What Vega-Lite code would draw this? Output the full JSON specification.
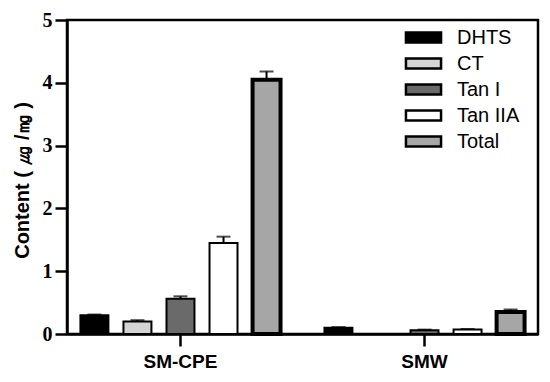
{
  "$schema": "https://vega.github.io/schema/vega-lite/v6.json",
  "width": 471,
  "height": 314,
  "autosize": {"type": "none"},
  "padding": {"left": 67, "top": 20, "right": 12, "bottom": 48},
  "background": "white",
  "config": {
    "view": {"stroke": "black", "strokeWidth": 2.5},
    "axis": {"grid": false, "domainColor": "black", "tickColor": "black", "labelColor": "black", "titleColor": "black"}
  },
  "data": {
    "values": [
      {"group": "SM-CPE", "compound": "DHTS", "value": 0.30, "hi": 0.31},
      {"group": "SM-CPE", "compound": "CT", "value": 0.20, "hi": 0.22},
      {"group": "SM-CPE", "compound": "Tan I", "value": 0.56, "hi": 0.60},
      {"group": "SM-CPE", "compound": "Tan IIA", "value": 1.45, "hi": 1.55},
      {"group": "SM-CPE", "compound": "Total", "value": 4.05, "hi": 4.18},
      {"group": "SMW", "compound": "DHTS", "value": 0.10, "hi": 0.11},
      {"group": "SMW", "compound": "CT", "value": 0.0, "hi": 0.0},
      {"group": "SMW", "compound": "Tan I", "value": 0.06, "hi": 0.07},
      {"group": "SMW", "compound": "Tan IIA", "value": 0.07, "hi": 0.08},
      {"group": "SMW", "compound": "Total", "value": 0.35, "hi": 0.39}
    ]
  },
  "encoding": {
    "x": {
      "field": "group", "type": "nominal", "sort": ["SM-CPE", "SMW"],
      "scale": {"paddingInner": 0.18, "paddingOuter": 0.055},
      "axis": {
        "title": null, "labelAngle": 0, "domainWidth": 2.5, "tickWidth": 2.5, "tickSize": 12,
        "labelFont": "Liberation Sans", "labelFontWeight": "bold", "labelFontSize": 19, "labelPadding": 6
      }
    },
    "xOffset": {
      "field": "compound", "type": "nominal",
      "sort": ["DHTS", "CT", "Tan I", "Tan IIA", "Total"],
      "scale": {"paddingInner": 0.35, "paddingOuter": 0}
    }
  },
  "layer": [
    {
      "mark": {"type": "bar", "stroke": "black"},
      "encoding": {
        "y": {
          "field": "value", "type": "quantitative",
          "scale": {"domain": [0, 5]},
          "axis": {
            "title": "Content ( ㎍ /㎎ )", "values": [0, 1, 2, 3, 4, 5], "format": "d",
            "domainWidth": 2.5, "tickWidth": 2.5, "tickSize": 12, "labelPadding": 3,
            "labelFont": "Liberation Serif", "labelFontWeight": "bold", "labelFontSize": 20,
            "titleFont": "Liberation Sans", "titleFontWeight": "bold", "titleFontSize": 20, "titlePadding": 10,
            "titleY": 160
          }
        },
        "fill": {
          "field": "compound", "type": "nominal",
          "scale": {
            "domain": ["DHTS", "CT", "Tan I", "Tan IIA", "Total"],
            "range": ["#000000", "#d4d4d4", "#6a6a6a", "#ffffff", "#a6a6a6"]
          },
          "legend": {
            "title": null, "orient": "none", "legendX": 342, "legendY": 3,
            "symbolType": "M-1.35,-0.38H1.35V0.38H-1.35Z", "symbolSize": 676,
            "symbolStrokeColor": "black", "symbolStrokeWidth": 2.5,
            "labelFont": "Liberation Sans", "labelFontSize": 20, "labelColor": "black",
            "rowPadding": 1, "labelOffset": 19, "symbolOpacity": 1
          }
        },
        "strokeWidth": {"condition": {"test": "datum.compound === 'Total'", "value": 4}, "value": 2}
      }
    },
    {
      "mark": {"type": "rule", "color": "black", "strokeWidth": 2},
      "encoding": {
        "y": {"field": "value", "type": "quantitative"},
        "y2": {"field": "hi"}
      }
    },
    {
      "mark": {"type": "tick", "color": "black", "thickness": 2, "size": 14, "orient": "horizontal"},
      "encoding": {
        "y": {"field": "hi", "type": "quantitative"}
      }
    }
  ]
}
